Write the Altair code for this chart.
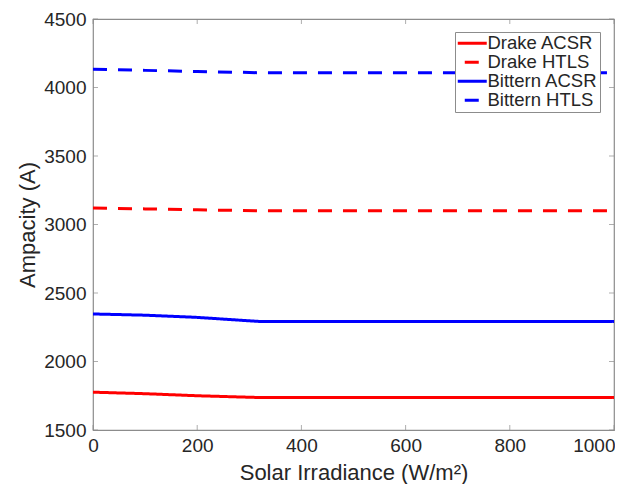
import altair as alt
import pandas as pd

# ---- data ----
series_names = ["Drake ACSR", "Drake HTLS", "Bittern ACSR", "Bittern HTLS"]
series_colors = ["#ff0000", "#ff0000", "#0000ff", "#0000ff"]
series_dash = [[1, 0], [14, 11], [1, 0], [14, 11]]

irradiance = [0, 100, 200, 320, 400, 500, 600, 700, 800, 900, 1000]
drake_acsr = [1776, 1765, 1750, 1737, 1737, 1737, 1737, 1737, 1737, 1737, 1737]
drake_htls = [3121, 3114, 3107, 3100, 3100, 3100, 3100, 3100, 3100, 3100, 3100]
bittern_acsr = [2347, 2338, 2322, 2292, 2292, 2292, 2292, 2292, 2292, 2292, 2292]
bittern_htls = [4133, 4125, 4117, 4108, 4108, 4108, 4108, 4108, 4108, 4108, 4108]

x_ticks = [0, 200, 400, 600, 800, 1000]
y_ticks = [1500, 2000, 2500, 3000, 3500, 4000, 4500]

rows = []
for name, vals in zip(series_names, [drake_acsr, drake_htls, bittern_acsr, bittern_htls]):
    for x, y in zip(irradiance, vals):
        rows.append({"x": x, "y": y, "series": name})
df = pd.DataFrame(rows)

W, H = 521, 411
FONT = "Liberation Sans"
TXT = "#262626"
AX = "#8c8c8c"

xs = alt.Scale(domain=[0, 1000], nice=False, zero=False)
ys = alt.Scale(domain=[1500, 4500], nice=False, zero=False)

legend = alt.Legend(title=None, orient="none", legendX=362, legendY=13,
                    symbolType="M-2,0H2", symbolSize=210, symbolStrokeWidth=3,
                    symbolDashOffset=18, labelFontSize=18.5, labelFont=FONT,
                    labelColor=TXT, rowPadding=-1, padding=2, labelOffset=6,
                    strokeColor=AX, fillColor="white", symbolOffset=6)

lines = alt.Chart(df).mark_line(strokeWidth=3, clip=True).encode(
    x=alt.X("x:Q", scale=xs, title="Solar Irradiance (W/m²)",
            axis=alt.Axis(values=x_ticks, format="d", labelFlush=False,
                          labelAlign=alt.condition("datum.value == 1000",
                                                   alt.value("right"), alt.value("center")),
                          labelOffset=alt.condition("datum.value == 1000",
                                                    alt.value(1), alt.value(0)),
                          labelPadding=6, titlePadding=7)),
    y=alt.Y("y:Q", scale=ys, title="Ampacity (A)",
            axis=alt.Axis(values=y_ticks, format="d", labelPadding=7, titlePadding=4)),
    color=alt.Color("series:N",
                    scale=alt.Scale(domain=series_names, range=series_colors),
                    legend=legend),
    strokeDash=alt.StrokeDash("series:N",
                              scale=alt.Scale(domain=series_names, range=series_dash),
                              legend=legend),
)

xt = pd.DataFrame({"t": x_ticks})
yt = pd.DataFrame({"t": y_ticks})
tick_style = dict(color=AX, thickness=1, size=5)

xb = alt.Chart(xt).mark_tick(orient="vertical", **tick_style).encode(
    x=alt.X("t:Q", scale=xs), y=alt.value(H - 2.5))
xtp = alt.Chart(xt).mark_tick(orient="vertical", **tick_style).encode(
    x=alt.X("t:Q", scale=xs), y=alt.value(2.5))
yl = alt.Chart(yt).mark_tick(orient="horizontal", **tick_style).encode(
    y=alt.Y("t:Q", scale=ys), x=alt.value(2.5))
yr = alt.Chart(yt).mark_tick(orient="horizontal", **tick_style).encode(
    y=alt.Y("t:Q", scale=ys), x=alt.value(W - 2.5))

chart = alt.layer(xb, xtp, yl, yr, lines).properties(
    width=W, height=H,
    autosize=alt.AutoSizeParams(type="none"),
    padding={"left": 85, "top": 11, "right": 1, "bottom": 54},
).configure_view(
    stroke=AX, strokeWidth=1.2
).configure_axis(
    domain=False, ticks=False, tickSize=0, grid=False,
    labelFont=FONT, labelFontSize=19, labelColor=TXT,
    titleFont=FONT, titleFontSize=22, titleColor=TXT, titleFontWeight="normal",
)

chart.save("out.html", embed_options={"renderer": "svg", "actions": False})
